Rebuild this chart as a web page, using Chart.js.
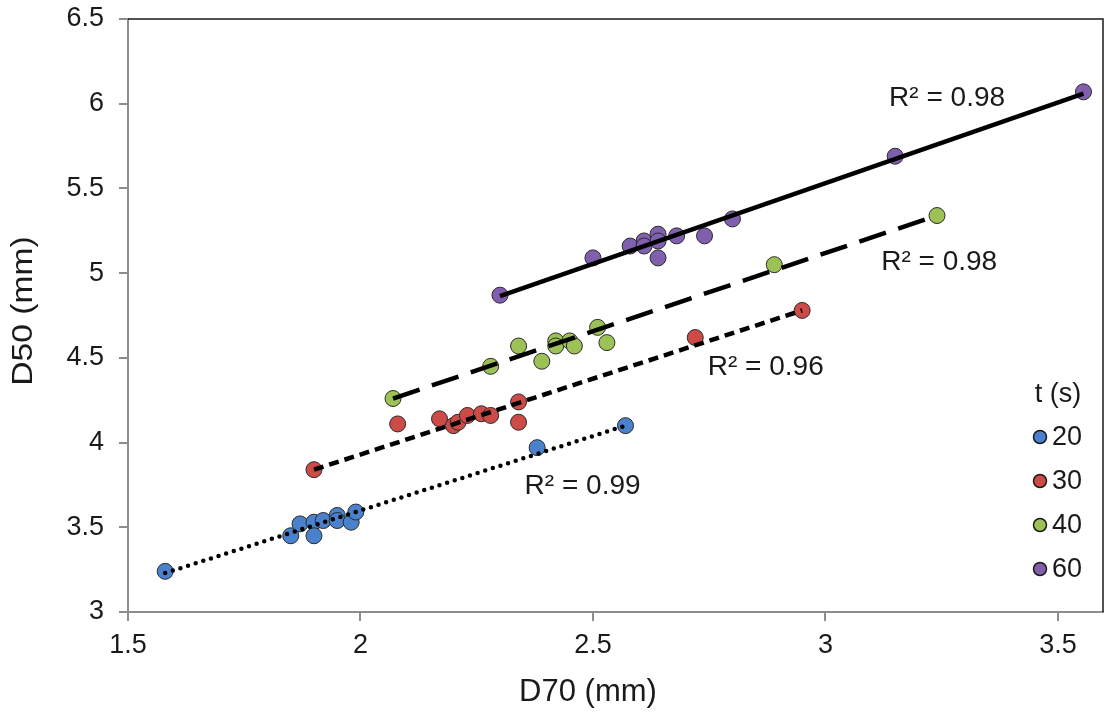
<!DOCTYPE html>
<html lang="en">
<head>
  <meta charset="UTF-8">
  <title>D50 vs D70</title>
  <script src="https://cdn.jsdelivr.net/npm/chart.js"></script>
  <style>
    html, body { margin: 0; padding: 0; background: #fff; }
    #wrap { width: 1112px; height: 719px; }
  </style>
</head>
<body>
  <div id="wrap"><canvas id="sizeChart" width="1112" height="719"></canvas></div>

  <script>
    const seriesNames = ['20', '30', '40', '60'];
    const seriesColors = ['#4a81cc', '#cc4b47', '#9cc257', '#7f5fae'];

    const x20 = [1.58, 1.85, 1.87, 1.90, 1.90, 1.92, 1.95, 1.95, 1.98, 1.99, 2.38, 2.57];
    const y20 = [3.24, 3.45, 3.52, 3.53, 3.45, 3.54, 3.57, 3.54, 3.53, 3.59, 3.97, 4.10];

    const x30 = [1.90, 2.08, 2.17, 2.20, 2.21, 2.23, 2.26, 2.28, 2.34, 2.34, 2.72, 2.95];
    const y30 = [3.84, 4.11, 4.14, 4.10, 4.12, 4.16, 4.17, 4.16, 4.24, 4.12, 4.62, 4.78];

    const x40 = [2.07, 2.28, 2.34, 2.39, 2.42, 2.42, 2.45, 2.46, 2.51, 2.53, 2.89, 3.24];
    const y40 = [4.26, 4.45, 4.57, 4.48, 4.60, 4.57, 4.60, 4.57, 4.68, 4.59, 5.05, 5.34];

    const x60 = [2.30, 2.50, 2.58, 2.61, 2.61, 2.64, 2.64, 2.64, 2.68, 2.74, 2.80, 3.15, 3.555];
    const y60 = [4.87, 5.09, 5.16, 5.19, 5.16, 5.23, 5.19, 5.09, 5.22, 5.22, 5.32, 5.69, 6.07];

    // trendline end points (x0, x1) and (y0, y1) per series
    const trendX = [[1.58, 2.57], [1.90, 2.95], [2.07, 3.24], [2.30, 3.555]];
    const trendY = [[3.23, 4.10], [3.84, 4.78], [4.26, 5.34], [4.865, 6.06]];
    const trendDash = [[0, 8], [10, 6], [28, 13], []];

    // R² labels and where their left edge sits (data coords)
    const r2Text = ['R² = 0.99', 'R² = 0.96', 'R² = 0.98', 'R² = 0.98'];
    const r2X = [2.353, 2.747, 3.12, 3.137];
    const r2Y = [3.74, 4.446, 5.066, 6.034];

    const xTickValues = [1.5, 2, 2.5, 3, 3.5];
    const yTickValues = [3, 3.5, 4, 4.5, 5, 5.5, 6, 6.5];

    const allX = [x20, x30, x40, x60];
    const allY = [y20, y30, y40, y60];

    const FONT = "'Liberation Sans', Arial, sans-serif";

    const pointSets = seriesNames.map((name, i) => ({
      type: 'scatter',
      label: name,
      data: allX[i].map((x, j) => ({ x: x, y: allY[i][j] })),
      backgroundColor: seriesColors[i],
      borderColor: '#2b2b2b',
      borderWidth: 1,
      pointRadius: 8,
      pointHoverRadius: 8,
      order: 2
    }));

    const trendSets = trendX.map((tx, i) => ({
      type: 'line',
      label: 'trend ' + seriesNames[i],
      data: tx.map((x, j) => ({ x: x, y: trendY[i][j] })),
      borderColor: '#000',
      borderWidth: 4.5,
      borderDash: trendDash[i],
      borderCapStyle: i === 0 ? 'round' : 'butt',
      pointRadius: 0,
      fill: false,
      order: 1
    }));

    // frame on top and right, plus the two axis titles
    const framePlugin = {
      id: 'frame',
      afterDraw(chart) {
        const { ctx, chartArea: a } = chart;
        ctx.save();
        ctx.strokeStyle = '#1a1a1a';
        ctx.lineWidth = 1.5;
        ctx.beginPath();
        ctx.moveTo(a.left, a.top);
        ctx.lineTo(a.right, a.top);
        ctx.lineTo(a.right, a.bottom);
        ctx.stroke();

        ctx.fillStyle = '#1a1a1a';
        ctx.textAlign = 'center';
        ctx.textBaseline = 'middle';
        ctx.font = '31px ' + FONT;
        ctx.fillText('D70 (mm)', 588, 692);

        ctx.translate(24, 311);
        ctx.rotate(-Math.PI / 2);
        ctx.scale(1.12, 1);
        ctx.font = '30px ' + FONT;
        ctx.fillText('D50 (mm)', 0, 0);
        ctx.restore();
      }
    };

    const r2Plugin = {
      id: 'r2labels',
      afterDatasetsDraw(chart) {
        const { ctx, scales } = chart;
        ctx.save();
        ctx.font = '28px ' + FONT;
        ctx.fillStyle = '#1a1a1a';
        ctx.textAlign = 'left';
        ctx.textBaseline = 'middle';
        r2Text.forEach((t, i) => {
          ctx.fillText(t, scales.x.getPixelForValue(r2X[i]), scales.y.getPixelForValue(r2Y[i]));
        });
        ctx.restore();
      }
    };

    const legendPlugin = {
      id: 'insideLegend',
      afterDraw(chart) {
        const ctx = chart.ctx;
        ctx.save();
        ctx.font = '27px ' + FONT;
        ctx.fillStyle = '#1a1a1a';
        ctx.textBaseline = 'middle';
        ctx.textAlign = 'center';
        ctx.fillText('t (s)', 1058, 395);
        ctx.textAlign = 'left';
        seriesNames.forEach((name, i) => {
          const y = 437 + i * 44;
          ctx.beginPath();
          ctx.arc(1040, y, 6.5, 0, Math.PI * 2);
          ctx.fillStyle = seriesColors[i];
          ctx.fill();
          ctx.lineWidth = 1.5;
          ctx.strokeStyle = '#1a1a1a';
          ctx.stroke();
          ctx.fillStyle = '#1a1a1a';
          ctx.fillText(name, 1052, y + 1);
        });
        ctx.restore();
      }
    };

    new Chart(document.getElementById('sizeChart'), {
      data: { datasets: trendSets.concat(pointSets) },
      options: {
        responsive: false,
        animation: false,
        layout: { padding: { top: 19, right: 4, left: 0, bottom: 0 } },
        plugins: {
          legend: { display: false },
          tooltip: { enabled: false }
        },
        scales: {
          x: {
            type: 'linear',
            min: 1.5,
            max: 3.597,
            afterBuildTicks: s => { s.ticks = xTickValues.map(v => ({ value: v })); },
            afterFit: s => { s.height = 107; s.paddingLeft = 0; s.paddingRight = 0; },
            grid: { drawOnChartArea: false, drawTicks: true, tickLength: 9, color: '#8c8c8c', lineWidth: 2 },
            border: { color: '#8c8c8c', width: 2 },
            ticks: {
              padding: 8,
              color: '#1a1a1a',
              font: { family: "'Liberation Sans Narrow', " + FONT, size: 27 },
              maxRotation: 0,
              callback: v => String(v)
            }
          },
          y: {
            type: 'linear',
            min: 3,
            max: 6.5,
            afterBuildTicks: s => { s.ticks = yTickValues.map(v => ({ value: v })); },
            afterFit: s => { s.width = 128; s.paddingTop = 0; s.paddingBottom = 0; },
            grid: { drawOnChartArea: false, drawTicks: true, tickLength: 9, color: '#8c8c8c', lineWidth: 2 },
            border: { color: '#8c8c8c', width: 2 },
            ticks: {
              padding: 15,
              color: '#1a1a1a',
              font: { family: FONT, size: 27 },
              callback: v => String(v)
            }
          }
        }
      },
      plugins: [framePlugin, r2Plugin, legendPlugin]
    });
  </script>
</body>
</html>
